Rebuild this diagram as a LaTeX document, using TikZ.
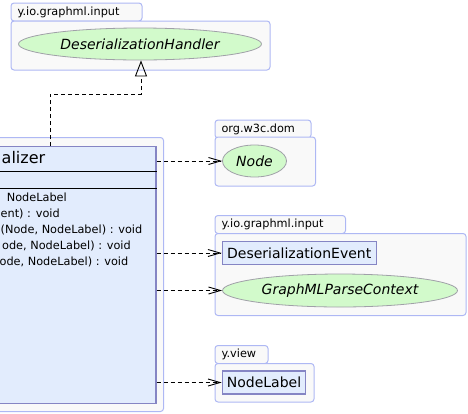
\documentclass[tikz,border=0pt]{standalone}
\usepackage{fontspec}
\setmainfont{DejaVu Sans}
\usepackage{xcolor}
\usepackage{tikz}
\usetikzlibrary{arrows.meta,positioning,calc,shapes.geometric}

\definecolor{pkgline}{HTML}{AEB8F4}
\definecolor{pkgfill}{HTML}{F9F9F9}
\definecolor{clsline}{HTML}{8585C4}
\definecolor{clsfill}{HTML}{E2ECFD}
\definecolor{ifcline}{HTML}{A0A0A8}
\definecolor{ifcfill}{HTML}{D2FACB}

\newcommand{\pkgfont}{\fontsize{11.3}{13}\selectfont}
\newcommand{\typefont}{\fontsize{14}{16}\selectfont}
\newcommand{\titlefont}{\fontsize{16}{19}\selectfont}

\begin{document}
\begin{tikzpicture}[x=1pt, y=-1pt,
  pkgtab/.style={draw=pkgline, fill=pkgfill, line width=1pt, rounded corners=3pt, anchor=north west, inner xsep=6.5pt, inner ysep=0pt, minimum height=18pt, align=left, font=\pkgfont},
  pkgbody/.style={draw=pkgline, fill=pkgfill, line width=1pt, rounded corners=3pt, inner sep=0pt},
  clsbox/.style={draw=clsline, fill=clsfill, line width=1.2pt, inner sep=0pt, font=\typefont},
  iface/.style={ellipse, draw=ifcline, fill=ifcfill, line width=0.8pt, inner sep=0pt, font=\typefont\itshape},
  member/.style={anchor=base east, inner sep=0pt, font=\pkgfont},
  dep/.style={dash pattern=on 4pt off 3pt, line width=0.9pt, -{Straight Barb[length=12pt, width=7pt, line width=0.9pt]}},
  realize/.style={dash pattern=on 4pt off 3pt, line width=0.9pt, -{Triangle[open, length=16pt, width=12pt, line width=0.9pt]}}
]
\useasboundingbox (0,0) rectangle (468,413);
\clip (0,0) rectangle (468,413);

% y.io.graphml.input (top)
\node[pkgtab, text width=118pt] (inTopTab) at (10.5,2.5) {y.io.graphml.input};
\node[pkgbody, anchor=north west, minimum width=259pt, minimum height=49pt] (inTop) at (10.5,20.5) {};
\node[iface, minimum width=243pt, minimum height=32pt] (handler) at (140,44) {DeserializationHandler};

% package of the deserializer (tab outside the picture)
\node[pkgbody, anchor=north east, minimum width=400pt, minimum height=274pt] (deserPkg) at (164,137) {};
\node[clsbox, anchor=north east, minimum width=380pt, minimum height=257pt] (deser) at (156.5,146) {};
\node[anchor=base west, inner sep=0pt, font=\titlefont] (deserName) at (1.5,163.5) {alizer};
\draw[line width=0.9pt] (deser.west |- 0,171.5) -- (deser.east |- 0,171.5);
\draw[line width=0.9pt] (deser.west |- 0,188) -- (deser.east |- 0,188);
\node[member] (m1) at (67,201) {NodeLabel};
\node[member, anchor=base west] (m2) at (0.5,217) {ent) : void};
\node[member, anchor=base west] (m3) at (0.5,233) {(Node, NodeLabel) : void};
\node[member] (m4) at (131,249) {ode, NodeLabel) : void};
\node[member] (m5) at (128.5,265) {ode, NodeLabel) : void};

% org.w3c.dom
\node[pkgtab, text width=83pt] (domTab) at (214.5,119.5) {org.w3c.dom};
\node[pkgbody, anchor=north west, minimum width=100.5pt, minimum height=49pt] (dom) at (214.5,136.5) {};
\node[iface, minimum width=64pt, minimum height=32pt] (node) at (254.5,161) {Node};

% y.io.graphml.input (right)
\node[pkgtab, text width=117.5pt] (inTab) at (214.5,215) {y.io.graphml.input};
\node[pkgbody, anchor=north west, minimum width=251pt, minimum height=82pt] (in) at (214.5,233) {};
\node[clsbox, minimum width=154pt, minimum height=23pt] (event) at (299.2,253) {DeserializationEvent};
\node[iface, minimum width=235pt, minimum height=33pt] (context) at (340,290.5) {GraphMLParseContext};

% y.view
\node[pkgtab, text width=40pt] (viewTab) at (214.5,345) {y.view};
\node[pkgbody, anchor=north west, minimum width=99pt, minimum height=38.5pt] (view) at (214.5,363) {};
\node[clsbox, minimum width=83.5pt, minimum height=23pt] (label) at (264,382.5) {NodeLabel};

% connectors
\coordinate (deserTop) at (50,146);
\draw[realize] (deserTop) |- ($(handler.south)+(1,34)$) -- ($(handler.south)+(1,0)$);
\draw[dep] (deser.east |- node.west) -- (node.west);
\draw[dep] (deser.east |- event.west) -- (event.west);
\draw[dep] (deser.east |- context.west) -- (context.west);
\draw[dep] (deser.east |- label.west) -- (label.west);
\end{tikzpicture}
\end{document}
